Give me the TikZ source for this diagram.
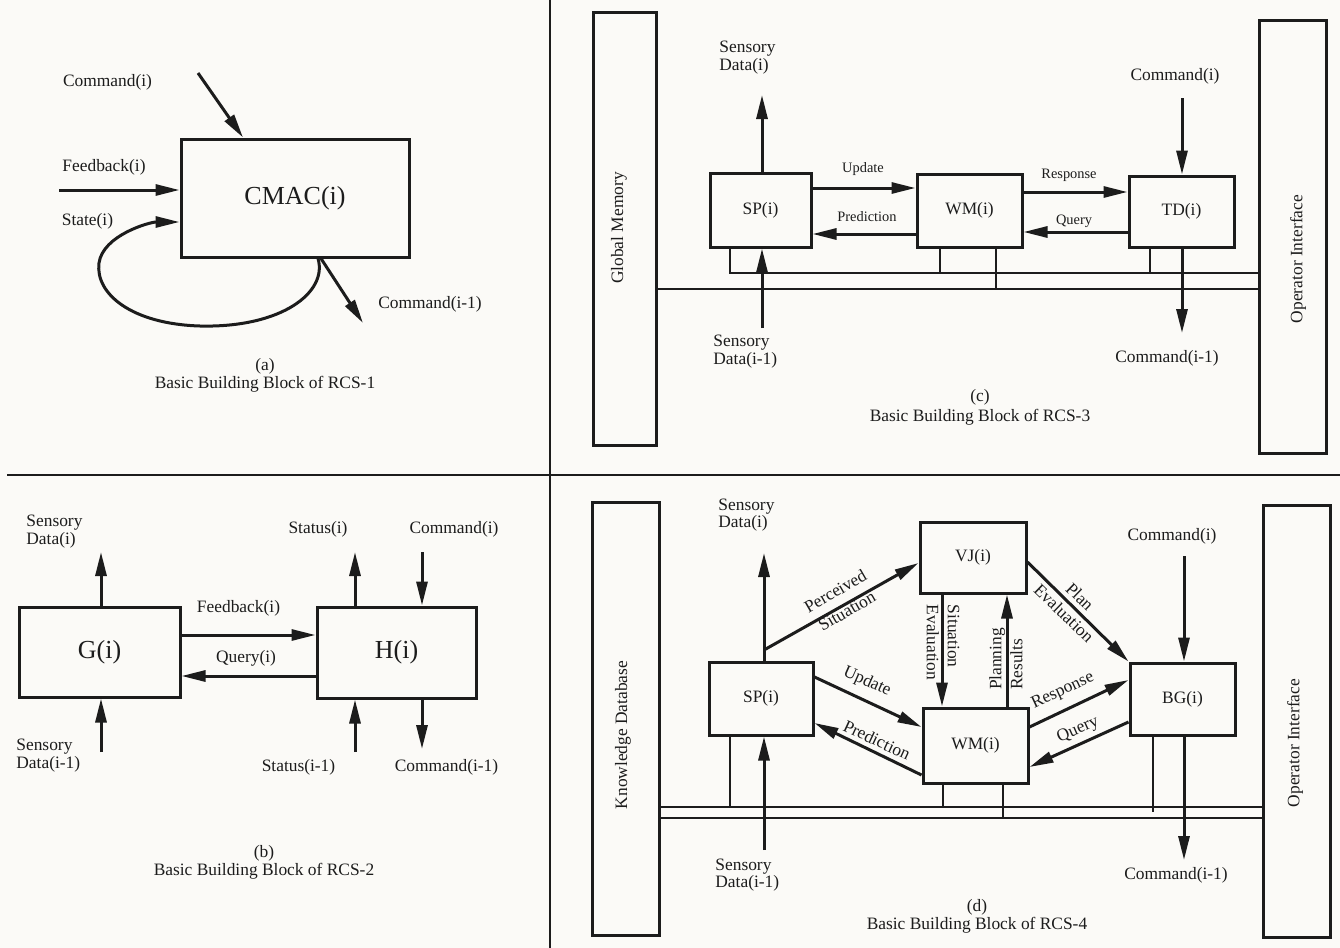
\documentclass[tikz,border=0pt]{standalone}
\usepackage{fontspec}
\setmainfont{Liberation Serif}
\usetikzlibrary{arrows.meta,calc}
\definecolor{inkc}{RGB}{28,28,28}
\definecolor{paper}{RGB}{251,250,247}
\begin{document}
\begin{tikzpicture}[x=0.5pt,y=-0.5pt,
  box/.style={draw=inkc, line width=1.5pt, inner sep=0pt, text=inkc, font=\fontsize{8.7}{9}\selectfont},
  bigbox/.style={box, font=\fontsize{13}{15}\selectfont},
  arr/.style={draw=inkc, line width=1.5pt, -{Triangle[length=12pt,width=5.5pt]}},
  bus/.style={draw=inkc, line width=1.25pt},
  divl/.style={draw=inkc, line width=1pt},
  lab/.style={font=\fontsize{8.7}{9}\selectfont, text=inkc, inner sep=0pt, align=center},
  labl/.style={lab, align=left},
  wide/.style={font=\fontsize{8.7}{10.5}\selectfont},
  slab/.style={font=\fontsize{7.2}{8}\selectfont, text=inkc, inner sep=0pt},
  captxt/.style={lab, font=\fontsize{8.7}{9}\selectfont},
]
\fill[paper] (0,0) rectangle (1340,948);
\useasboundingbox (0,0) rectangle (1340,948);

% dividers
\draw[divl] (550,0) -- (550,948);
\draw[divl] (7,475) -- (1340,475);

% ================= (a) =================
\node[bigbox, minimum width=114pt, minimum height=59pt] (cmac) at (295,198) {CMAC(i)};
\coordinate (acmd) at (198,73);
\draw[arr] (acmd) -- (cmac.north -| 243,0);
\node[lab] (acmdl) at (107.5,82) {Command(i)};
\coordinate (afb) at (59,190);
\draw[arr] (afb) -- (cmac.west |- 0,190);
\node[lab] (afbl) at (104,167) {Feedback(i)};
\node[lab] (astl) at (87.5,221) {State(i)};
\draw[arr] (cmac.south -| 318,0) .. controls (328,292) and (282,328) .. (200,326)
  .. controls (132,324) and (95,294) .. (99,263)
  .. controls (103,235) and (150,222) .. (cmac.west |- 0,222);
\coordinate (aout) at (363,323);
\draw[arr] (cmac.south -| 321,0) -- (aout);
\node[lab] (aoutl) at (430,304) {Command(i-1)};
\node[captxt] (acap) at (265,375) {(a)\\Basic Building Block of RCS-1};

% ================= (b) =================
\node[bigbox, minimum width=80.5pt, minimum height=45pt] (g) at (99.5,652) {G(i)};
\node[bigbox, minimum width=79.5pt, minimum height=45.5pt] (h) at (396.5,652.5) {H(i)};
\coordinate (bsdi) at (101,552);
\draw[arr] (g.north -| 101,0) -- (bsdi);
\node[labl, anchor=west] (bsdil) at (26,532) {Sensory\\Data(i)};
\coordinate (bsdo) at (101,752);
\draw[arr] (bsdo) -- (g.south -| 101,0);
\node[labl, anchor=west] (bsdol) at (16,755.5) {Sensory\\Data(i-1)};
\draw[arr] (g.east |- 0,635) -- (h.west |- 0,635);
\node[lab] (bfbl) at (238.5,608) {Feedback(i)};
\draw[arr] (h.west |- 0,676) -- (g.east |- 0,676);
\node[lab] (bqyl) at (246,658) {Query(i)};
\coordinate (bsti) at (355,552);
\draw[arr] (h.north -| 355,0) -- (bsti);
\node[lab] (bstil) at (318,529) {Status(i)};
\coordinate (bcmi) at (422,552);
\draw[arr] (bcmi) -- (h.north -| 422,0);
\node[lab] (bcmil) at (454,529) {Command(i)};
\coordinate (bsto) at (355,752);
\draw[arr] (bsto) -- (h.south -| 355,0);
\node[lab] (bstol) at (298.5,767) {Status(i-1)};
\coordinate (bcmo) at (422,749);
\draw[arr] (h.south -| 422,0) -- (bcmo);
\node[lab] (bcmol) at (446.5,767) {Command(i-1)};
\node[captxt] (bcap) at (264,862.5) {(b)\\Basic Building Block of RCS-2};

% ================= (c) =================
\node[box, minimum width=31.5pt, minimum height=216.5pt] (gm) at (624.5,228.5) {};
\node[lab, rotate=90] (gmt) at (619,228) {Global Memory};
\node[box, minimum width=33.5pt, minimum height=216.5pt] (oic) at (1292.5,236.5) {};
\node[lab, rotate=90] (oict) at (1298,259) {Operator Interface};
\node[box, minimum width=50.5pt, minimum height=37pt] (spc) at (760.5,210) {SP(i)};
\node[box, minimum width=52.5pt, minimum height=36.5pt] (wmc) at (969.5,210.5) {WM(i)};
\node[box, minimum width=52.5pt, minimum height=35.5pt] (tdc) at (1181.5,211.5) {TD(i)};

\draw[arr] (spc.east |- 0,188) -- (wmc.west |- 0,188);
\node[slab] (cupl) at (863,169) {Update};
\draw[arr] (wmc.west |- 0,234) -- (spc.east |- 0,234);
\node[slab] (cprl) at (867,217) {Prediction};
\draw[arr] (wmc.east |- 0,192) -- (tdc.west |- 0,192);
\node[slab] (crsl) at (1069,175) {Response};
\draw[arr] (tdc.west |- 0,232) -- (wmc.east |- 0,232);
\node[slab] (cqyl) at (1074,221) {Query};

\coordinate (csdi) at (762,95);
\draw[arr] (spc.north -| 762,0) -- (csdi);
\node[labl, anchor=west] (csdil) at (719,58) {Sensory\\Data(i)};
\coordinate (ccmi) at (1182,98);
\draw[arr] (ccmi) -- (tdc.north -| 1182,0);
\node[lab] (ccmil) at (1175,76) {Command(i)};

% buses (c)
\draw[bus] (spc.south -| 730,0) |- (oic.west |- 0,273);
\draw[bus] (gm.east |- 0,289) -- (oic.west |- 0,289);
\draw[bus] (wmc.south -| 940,0) -- (940,273);
\draw[bus] (wmc.south -| 996,0) -- (996,289);
\draw[bus] (tdc.south -| 1150,0) -- (1150,273);

\coordinate (csdo) at (762,328);
\draw[arr] (csdo) -- (spc.south -| 762,0);
\node[labl, anchor=west] (csdol) at (713,352) {Sensory\\Data(i-1)};
\coordinate (ccmo) at (1182,333);
\draw[arr] (tdc.south -| 1182,0) -- (ccmo);
\node[lab] (ccmol) at (1167,358) {Command(i-1)};
\node[captxt, font=\fontsize{8.7}{10}\selectfont] (ccap) at (980,407) {(c)\\Basic Building Block of RCS-3};

% ================= (d) =================
\node[box, minimum width=33.5pt, minimum height=216.5pt] (kd) at (625.5,718.5) {};
\node[lab, rotate=90] (kdt) at (623,735) {Knowledge Database};
\node[box, minimum width=33.5pt, minimum height=216pt] (oid) at (1296.5,721) {};
\node[lab, rotate=90] (oidt) at (1295,743) {Operator Interface};
\node[box, minimum width=52pt, minimum height=36.5pt] (spd) at (761,698.5) {SP(i)};
\node[box, minimum width=53pt, minimum height=35.5pt] (vj) at (973,557.5) {VJ(i)};
\node[box, minimum width=52.5pt, minimum height=37.5pt] (wmd) at (975.5,745.5) {WM(i)};
\node[box, minimum width=52.5pt, minimum height=36pt] (bg) at (1182.5,699) {BG(i)};

\coordinate (dsdi) at (764,553);
\draw[arr] (spd.north -| 764,0) -- (dsdi);
\node[labl, anchor=west, font=\fontsize{8.7}{8.5}\selectfont] (dsdil) at (718,515) {Sensory\\Data(i)};
\coordinate (dps) at (764,650);
\draw[arr] (dps) -- (vj.west |- 0,563);
\node[lab, wide, font=\fontsize{8.7}{11.5}\selectfont, rotate=30] (dpsl) at (841,601) {Perceived\\Situation};

\draw[arr] (vj.south -| 942,0) -- (wmd.north -| 942,0);
\node[labl, font=\fontsize{8.7}{10.5}\selectfont, rotate=-90] (dsel) at (943,642.5) {Situation\\Evaluation};
\draw[arr] (wmd.north -| 1007,0) -- (vj.south -| 1007,0);
\node[labl, font=\fontsize{8.7}{10.5}\selectfont, rotate=90] (dprl) at (1006,659) {Planning\\Results};
\draw[arr] (vj.east |- 0,562) -- (bg.north west);
\node[lab, rotate=-44, font=\fontsize{8.7}{11.5}\selectfont] (dpel) at (1072,605) {Plan\\Evaluation};

\draw[arr] (wmd.east |- 0,727) -- (bg.west |- 0,680);
\node[lab, rotate=25] (drsl) at (1063,691) {Response};
\draw[arr] (bg.west |- 0,722) -- (wmd.east |- 0,767);
\node[lab, rotate=24] (dqyl) at (1078,730) {Query};
\draw[arr] (spd.east |- 0,677) -- (wmd.west |- 0,727);
\node[lab, rotate=-24] (dupl) at (867,682) {Update};
\draw[arr] (wmd.west |- 0,775) -- (spd.east |- 0,723);
\node[lab, rotate=-25] (dprd) at (877,740) {Prediction};

\coordinate (dcmi) at (1184,556);
\draw[arr] (dcmi) -- (bg.north -| 1184,0);
\node[lab] (dcmil) at (1172,536) {Command(i)};

% buses (d)
\draw[bus] (kd.east |- 0,807) -- (oid.west |- 0,807);
\draw[bus] (kd.east |- 0,818) -- (oid.west |- 0,818);
\draw[bus] (spd.south -| 730,0) -- (730,807);
\draw[bus] (wmd.south -| 943,0) -- (943,807);
\draw[bus] (wmd.south -| 1003,0) -- (1003,818);
\draw[bus] (bg.south -| 1153,0) -- (1153,812);

\coordinate (dcmo) at (1184,860);
\draw[arr] (bg.south -| 1184,0) -- (dcmo);
\node[lab] (dcmol) at (1176,875) {Command(i-1)};
\coordinate (dsdo) at (764,850);
\draw[arr] (dsdo) -- (spd.south -| 764,0);
\node[labl, anchor=west, font=\fontsize{8.7}{8.5}\selectfont] (dsdol) at (715,875) {Sensory\\Data(i-1)};
\node[captxt] (dcap) at (977,916.5) {(d)\\Basic Building Block of RCS-4};
\end{tikzpicture}
\end{document}
